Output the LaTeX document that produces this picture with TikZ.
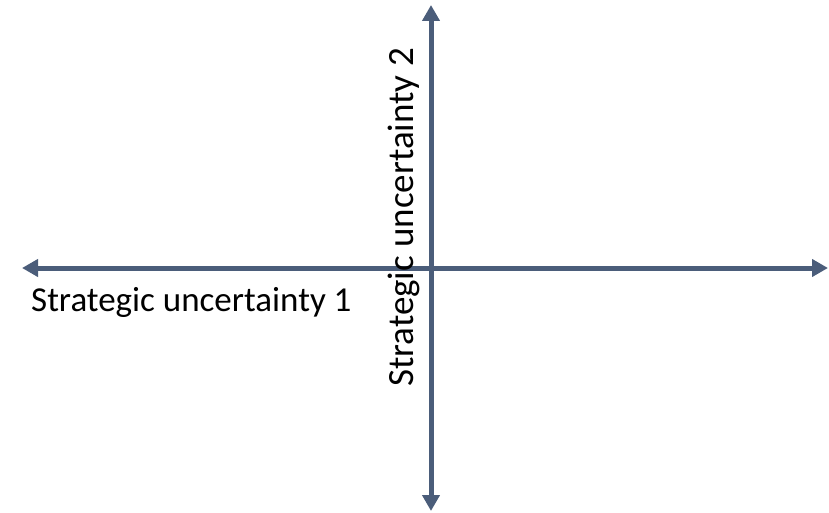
\documentclass[tikz,border=0pt]{standalone}
\usepackage{fontspec}
\setmainfont{Carlito}
\usetikzlibrary{arrows.meta}
\definecolor{axiscol}{HTML}{4B5D7A}
\tikzset{
  axis/.style={line width=5pt, color=axiscol, {Triangle[length=16pt,width=17pt]}-{Triangle[length=16pt,width=17pt]}},
  lbl/.style={inner sep=0pt, text=black}
}
\begin{document}
\begin{tikzpicture}[x=1pt,y=-1pt]
\useasboundingbox (0,0) rectangle (829,513);
\coordinate (L) at (22,268);
\coordinate (R) at (828,268);
\coordinate (T) at (431,5);
\coordinate (B) at (431,511);
\draw[axis] (L) -- (R);
\draw[axis] (B) -- (T);
\node[lbl, font=\fontsize{35}{42}\selectfont, anchor=base west] (u1) at (31,311) {Strategic uncertainty 1};
\node[lbl, font=\fontsize{37}{44}\selectfont, anchor=base west, rotate=90] (u2) at (413,387) {Strategic uncertainty 2};
\end{tikzpicture}
\end{document}
